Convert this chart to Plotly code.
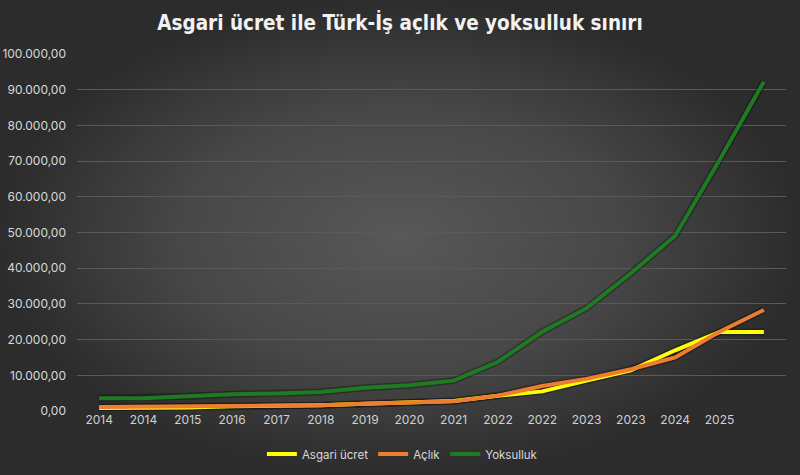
import plotly.graph_objects as go

# x tick labels (16 points, the last one has no label)
periods = ["2014", "2014", "2015", "2016", "2017", "2018", "2019", "2020",
           "2021", "2022", "2022", "2023", "2023", "2024", "2025", ""]

asgari_ucret = [846, 891, 1000, 1300, 1404, 1603, 2020, 2324,
                2826, 4253, 5500, 8507, 11402, 17002, 22104, 22104]
aclik = [1100, 1150, 1250, 1350, 1450, 1600, 2000, 2300,
         2700, 4300, 7000, 9000, 11700, 15000, 22200, 28300]
yoksulluk = [3550, 3600, 4100, 4700, 4900, 5300, 6500, 7200,
             8500, 13800, 22200, 28800, 38600, 49100, 70300, 92200]

series = [
    ("Asgari ücret", asgari_ucret, "#FFFF00"),
    ("Açlık", aclik, "#ED7D31"),
    ("Yoksulluk", yoksulluk, "#1E7B22"),
]

x = list(range(len(periods)))

fig = go.Figure()

# radial gradient background over the whole page (hidden first axes pair)
fig.add_trace(go.Scatter(
    x=[0, 1, 1, 0, 0], y=[0, 0, 1, 1, 0],
    mode="lines", line=dict(width=0),
    fill="toself",
    fillgradient=dict(type="radial",
                      colorscale=[[0, "#585858"], [0.55, "#474747"], [1, "#2c2c2c"]]),
    hoverinfo="skip", showlegend=False,
))

# soft dark halo under each line (the original has a drop shadow)
for name, vals, color in series:
    fig.add_trace(go.Scatter(
        x=x, y=vals, mode="lines", xaxis="x2", yaxis="y2",
        line=dict(color="rgba(0,0,0,0.3)", width=7),
        hoverinfo="skip", showlegend=False,
    ))

for name, vals, color in series:
    fig.add_trace(go.Scatter(
        x=x, y=vals, name=name, mode="lines",
        xaxis="x2", yaxis="y2",
        line=dict(color=color, width=4),
    ))

tick_font = dict(family="Inter, Noto Sans, sans-serif", size=12, color="#d9d9d9")

fig.update_layout(
    width=800, height=475,
    margin=dict(l=0, r=0, t=0, b=0, pad=0),
    paper_bgcolor="#2c2c2c",
    plot_bgcolor="rgba(0,0,0,0)",
    separators=",.",
    title=dict(text="<b>Asgari ücret ile Türk-İş açlık ve yoksulluk sınırı</b>",
               x=0.5, xanchor="center", y=0.953, yanchor="middle",
               font=dict(family="DejaVu Sans Condensed, sans-serif",
                         size=20.5, color="#f2f2f2")),
    xaxis=dict(domain=[0, 1], range=[0, 1], visible=False, fixedrange=True,
               automargin=False),
    yaxis=dict(domain=[0, 1], range=[0, 1], visible=False, fixedrange=True,
               automargin=False),
    xaxis2=dict(domain=[77 / 800, 786 / 800], range=[-0.5, len(periods) - 0.5],
                anchor="y2", tickvals=x, ticktext=periods, showgrid=False,
                zeroline=False, showline=False, ticks="", automargin=False,
                tickfont=dict(tick_font, color="#d0d0d0")),
    yaxis2=dict(domain=[1 - 411 / 475, 1 - 54 / 475], range=[0, 100000],
                anchor="x2", dtick=10000, tickformat=",.2f",
                gridcolor="#5a5a5a", gridwidth=1, automargin=False,
                zeroline=False, showline=False, ticks="", ticklabelstandoff=10,
                tickfont=tick_font),
    legend=dict(orientation="h", x=0.503, xanchor="center", y=0.044, yanchor="middle",
                font=dict(tick_font, size=11.5), bgcolor="rgba(0,0,0,0)",
                itemwidth=30),
    showlegend=True,
)

fig.write_html("out.html", config={"displayModeBar": False},
               post_script="document.body.style.margin = '0';")
